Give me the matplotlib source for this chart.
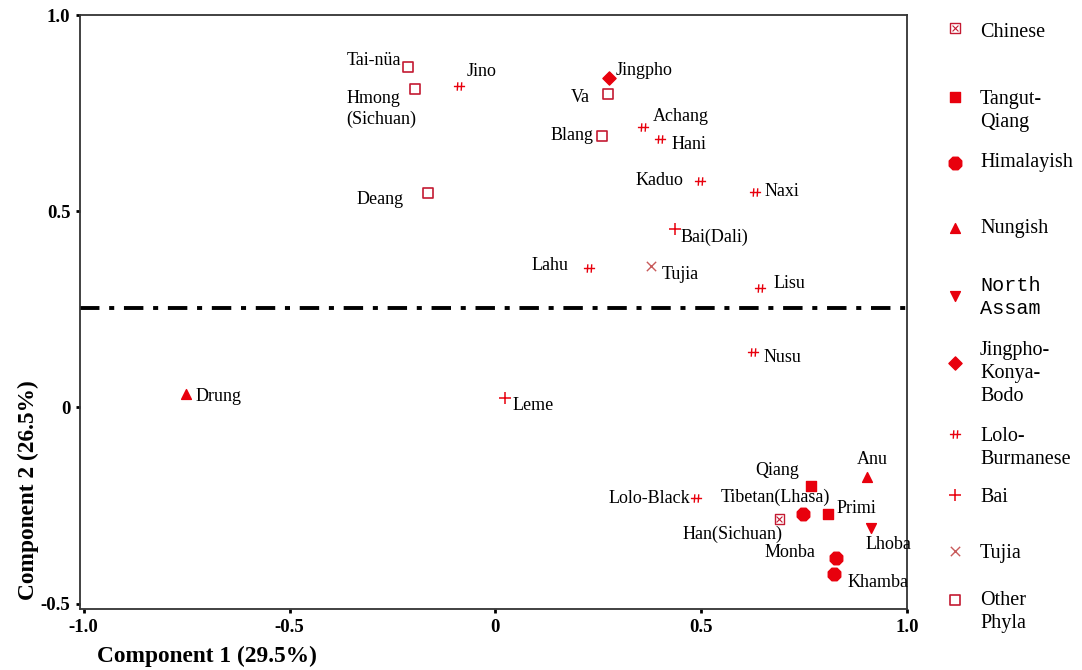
import matplotlib
matplotlib.use("Agg")
import matplotlib.pyplot as plt
from matplotlib.path import Path

plt.rcParams["font.family"] = ["Liberation Serif", "DejaVu Serif"]

# language points on the first two components
NAMES = ["Tai-nüa", "Hmong\n(Sichuan)", "Jino", "Jingpho", "Va", "Blang", "Achang", "Hani",
         "Kaduo", "Deang", "Naxi", "Bai(Dali)", "Lahu", "Tujia", "Lisu", "Nusu", "Drung", "Leme",
         "Anu", "Qiang", "Lolo-Black", "Tibetan(Lhasa)", "Primi", "Han(Sichuan)", "Lhoba",
         "Monba", "Khamba"]
COMP1 = [-0.212, -0.195, -0.088, 0.275, 0.273, 0.260, 0.358, 0.401, 0.498, -0.163, 0.631,
         0.437, 0.227, 0.379, 0.643, 0.626, -0.752, 0.023, 0.903, 0.767, 0.488, 0.748, 0.808,
         0.690, 0.912, 0.827, 0.823]
COMP2 = [0.868, 0.812, 0.819, 0.840, 0.799, 0.692, 0.715, 0.684, 0.578, 0.547, 0.550, 0.455,
         0.356, 0.361, 0.305, 0.140, 0.033, 0.023, -0.178, -0.201, -0.232, -0.272, -0.272,
         -0.285, -0.308, -0.384, -0.425]
GROUP = ["Other", "Other", "Lolo", "Jingpho", "Other", "Other", "Lolo", "Lolo", "Lolo",
         "Other", "Lolo", "Bai", "Lolo", "Tujia", "Lolo", "Lolo", "Nungish", "Bai", "Nungish",
         "Tangut", "Lolo", "Himalayish", "Tangut", "Chinese", "NorthAssam", "Himalayish",
         "Himalayish"]
DIVIDER_Y = 0.254

GROUP_ORDER = ["Chinese", "Tangut", "Himalayish", "Nungish", "NorthAssam", "Jingpho", "Lolo",
               "Bai", "Tujia", "Other"]
GROUP_LABELS = ["Chinese", "Tangut-\nQiang", "Himalayish", "Nungish", "North\nAssam",
                "Jingpho-\nKonya-\nBodo", "Lolo-\nBurmanese", "Bai", "Tujia", "Other\nPhyla"]

RED = "#e8000d"
DARK = "#c41a32"

lolo_marker = Path([(-1, 0), (1, 0), (-0.4, -0.75), (-0.3, 0.75), (0.3, -0.75), (0.4, 0.75)],
                   [Path.MOVETO, Path.LINETO] * 3)

STYLES = {
    "Chinese": dict(marker="s", s=45, facecolors="none", edgecolors=DARK, linewidths=1.0),
    "Tangut": dict(marker="s", s=55, color=RED),
    "Himalayish": dict(marker="8", s=95, color=RED),
    "Nungish": dict(marker="^", s=50, color=RED),
    "NorthAssam": dict(marker="v", s=50, color=RED),
    "Jingpho": dict(marker="D", s=45, color=RED),
    "Lolo": dict(marker=lolo_marker, s=65, color=RED, linewidths=1.0),
    "Bai": dict(marker="+", s=70, color=RED, linewidths=1.1),
    "Tujia": dict(marker="x", s=45, color="#c85a5a", linewidths=1.0),
    "Other": dict(marker="s", s=50, facecolors="none", edgecolors=DARK, linewidths=1.2),
}

# label offsets in pixels (dx, dy, ha)
LABEL_POS = {
    "Tai-nüa": (-7, 6, "right"), "Hmong\n(Sichuan)": (-69, -20, "left"), "Jino": (7, 15, "left"),
    "Jingpho": (7, 7, "left"), "Va": (-18, -4, "right"), "Blang": (-9, 0, "right"),
    "Achang": (10, 10, "left"), "Hani": (11, -6, "left"), "Kaduo": (-17, 0, "right"),
    "Deang": (-25, -7, "right"), "Naxi": (9, 0, "left"), "Bai(Dali)": (5, -9, "left"),
    "Lahu": (-20, 2, "right"), "Tujia": (10, -9, "left"), "Lisu": (13, 4, "left"),
    "Nusu": (10, -5, "left"), "Drung": (10, -2, "left"), "Leme": (8, -7, "left"),
    "Anu": (5, 18, "center"), "Qiang": (-12, 16, "right"), "Lolo-Black": (-6, 0, "right"),
    "Tibetan(Lhasa)": (27, 17, "right"), "Primi": (9, 6, "left"),
    "Han(Sichuan)": (3, -15, "right"), "Lhoba": (-5, -16, "left"), "Monba": (-20, 5, "right"),
    "Khamba": (13, -8, "left"),
}


def draw_marker(ax, xs, ys, group):
    ax.scatter(xs, ys, zorder=3, **STYLES[group])
    if group == "Chinese":
        ax.scatter(xs, ys, marker="x", s=18, color=DARK, linewidths=0.8, zorder=4)


fig = plt.figure(figsize=(10.82, 6.70), dpi=100)
ax = fig.add_axes([80 / 1082, 1 - 609 / 670, 827 / 1082, 594 / 670])

for g in GROUP_ORDER:
    idx = [i for i, gg in enumerate(GROUP) if gg == g]
    draw_marker(ax, [COMP1[i] for i in idx], [COMP2[i] for i in idx], g)

for name, x, y in zip(NAMES, COMP1, COMP2):
    dx, dy, ha = LABEL_POS[name]
    ax.annotate(name, (x, y), xytext=(dx, dy), textcoords="offset pixels", ha=ha, va="center",
                fontsize=13, multialignment="left", linespacing=1.3)

ax.axhline(DIVIDER_Y, color="black", linewidth=2.8, linestyle=(0, (5, 2.5, 1.3, 2.5)))

ax.set_xlim(-1.009, 1.0)
ax.set_ylim(-0.514, 0.997)
ax.set_xticks([-1.0, -0.5, 0, 0.5, 1.0])
ax.set_xticklabels(["-1.0", "-0.5", "0", "0.5", "1.0"])
ax.set_yticks([-0.5, 0, 0.5, 1.0])
ax.set_yticklabels(["-0.5", "0", "0.5", "1.0"])
ax.tick_params(direction="out", length=3, width=2, labelsize=13.5, pad=4)
for lab in ax.get_xticklabels() + ax.get_yticklabels():
    lab.set_fontweight("bold")
for sp in ax.spines.values():
    sp.set_linewidth(1.3)
    sp.set_color("#333333")

fig.text(207 / 1082, 1 - 656 / 670, "Component 1 (29.5%)", ha="center", va="center",
         fontsize=16.8, fontweight="bold")
fig.text(28 / 1082, 1 - 490 / 670, "Component 2 (26.5%)", ha="center", va="center",
         rotation=90, fontsize=16.8, fontweight="bold")

# legend on the right, one row per language group
lax = fig.add_axes([940 / 1082, 0, 142 / 1082, 1])
lax.set_xlim(940, 1082)
lax.set_ylim(670, 0)
lax.axis("off")
LEG_MARKER_Y = [28, 97, 163, 228, 296, 363, 434, 495, 551, 600]
LEG_TEXT_Y = [30, 97, 160, 226, 283, 348, 434, 495, 551, 598]
for g, lab, my, ty in zip(GROUP_ORDER, GROUP_LABELS, LEG_MARKER_Y, LEG_TEXT_Y):
    draw_marker(lax, [955], [my], g)
    fam = ["Liberation Mono"] if g == "NorthAssam" else ["Liberation Serif"]
    lax.text(980, ty - 7, lab, ha="left", va="top", fontsize=14.5, family=fam,
             linespacing=1.28)

fig.savefig("out.png", dpi=100)
